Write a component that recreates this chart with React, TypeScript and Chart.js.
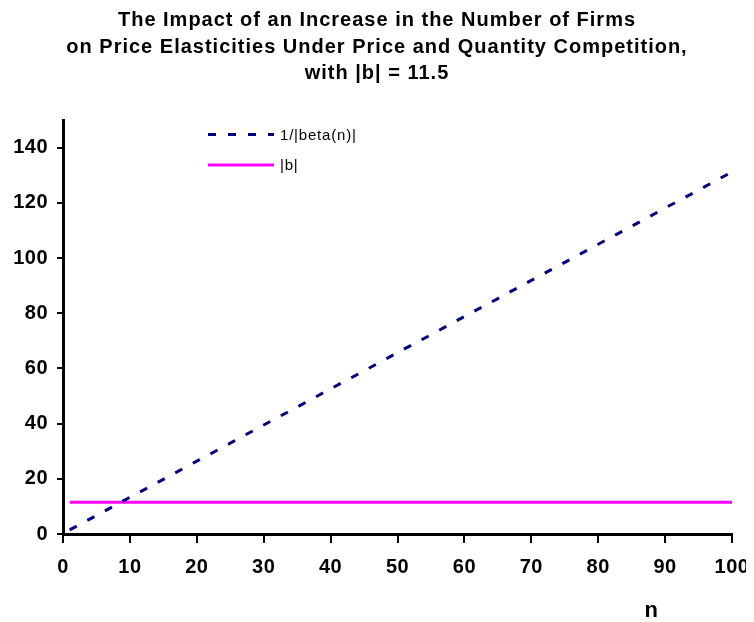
import React, { useEffect, useRef } from "react";
import { Chart, registerables } from "chart.js";

Chart.register(...registerables);

const titleLines = [
  "The Impact of an Increase in the Number of Firms",
  "on Price Elasticities Under Price and Quantity Competition,",
  "with |b| = 11.5",
];
const nValues = [1, 5, 10, 15, 20, 25, 30, 35, 40, 45, 50, 55, 60, 65, 70, 75, 80, 85, 90, 95, 100];
const betaInvValues = [1.5, 6.7, 13.3, 19.8, 26.4, 32.9, 39.5, 46.0, 52.6, 59.1, 65.7, 72.2, 78.8, 85.3, 91.9, 98.4, 105.0, 111.5, 118.1, 124.6, 131.2];
const bValues = [11.5, 11.5, 11.5, 11.5, 11.5, 11.5, 11.5, 11.5, 11.5, 11.5, 11.5, 11.5, 11.5, 11.5, 11.5, 11.5, 11.5, 11.5, 11.5, 11.5, 11.5];
const seriesNames = ["1/|beta(n)|", "|b|"];
const xAxisTitle = "n";

const NAVY = "#000080";
const MAGENTA = "#FF00FF";
const FONT = "'Liberation Sans', Arial, sans-serif";
const W = 746;
const H = 614;

const spacingPlugin = {
  id: "spacing",
  beforeLayout(chart: any) {
    (chart.ctx as any).letterSpacing = "0.5px";
  },
  beforeDraw(chart: any) {
    (chart.ctx as any).letterSpacing = "0.5px";
  },
};

const overlayPlugin = {
  id: "overlay",
  afterDraw(chart: any) {
    const ctx = chart.ctx;
    ctx.save();
    ctx.fillStyle = "#000";
    ctx.textAlign = "center";
    ctx.textBaseline = "alphabetic";
    ctx.font = `bold 20px ${FONT}`;
    (ctx as any).letterSpacing = "1px";
    const baselines = [18, 44.5, 71];
    titleLines.forEach((t, i) => ctx.fillText(t, 369, baselines[i]));

    // legend
    (ctx as any).letterSpacing = "0.8px";
    const lx0 = 200;
    const lx1 = 266;
    const rows = [126.5, 157];
    ctx.lineWidth = 3;
    ctx.strokeStyle = NAVY;
    ctx.setLineDash([8, 12]);
    ctx.beginPath();
    ctx.moveTo(lx0, rows[0]);
    ctx.lineTo(lx1, rows[0]);
    ctx.stroke();
    ctx.setLineDash([]);
    ctx.strokeStyle = MAGENTA;
    ctx.beginPath();
    ctx.moveTo(lx0, rows[1]);
    ctx.lineTo(lx1, rows[1]);
    ctx.stroke();
    ctx.font = `15px ${FONT}`;
    ctx.textAlign = "left";
    ctx.textBaseline = "middle";
    ctx.fillText(seriesNames[0], 272, rows[0] + 1);
    ctx.fillText(seriesNames[1], 272, rows[1] + 1);

    // x axis title
    ctx.font = `bold 22px ${FONT}`;
    ctx.textAlign = "center";
    ctx.textBaseline = "alphabetic";
    const xs = chart.scales.x;
    ctx.fillText(xAxisTitle, xs.getPixelForValue(88), 609);
    ctx.restore();
  },
};

export default function App() {
  const ref = useRef<HTMLCanvasElement | null>(null);
  useEffect(() => {
    document.documentElement.style.overflow = "hidden";
    if (!ref.current) return;
    const chart = new Chart(ref.current, {
      type: "scatter",
      data: {
        datasets: [
          {
            label: seriesNames[0],
            data: nValues.map((n, i) => ({ x: n, y: betaInvValues[i] })),
            showLine: true,
            borderColor: NAVY,
            borderWidth: 3,
            borderDash: [8, 12],
            pointRadius: 0,
            fill: false,
          },
          {
            label: seriesNames[1],
            data: nValues.map((n, i) => ({ x: n, y: bValues[i] })),
            showLine: true,
            borderColor: MAGENTA,
            borderWidth: 3,
            pointRadius: 0,
            fill: false,
          },
        ],
      },
      options: {
        responsive: false,
        animation: false,
        devicePixelRatio: 1,
        layout: { padding: { top: 112, right: 22, left: 0, bottom: 0 } },
        plugins: {
          legend: { display: false },
          title: { display: false },
          tooltip: { enabled: false },
        },
        scales: {
          x: {
            type: "linear",
            min: 0,
            max: 100,
            ticks: {
              stepSize: 10,
              color: "#000",
              font: { family: FONT, size: 20, weight: "bold" },
              padding: 0,
              maxRotation: 0,
            },
            grid: {
              drawOnChartArea: false,
              drawTicks: true,
              tickLength: 21,
              tickBorderDash: [7, 60],
              color: "#000",
              lineWidth: 2,
            },
            border: { display: true, color: "#000", width: 3 },
            afterFit(scale: any) {
              scale.height = 88;
            },
          },
          y: {
            type: "linear",
            min: 0,
            max: 150,
            ticks: {
              stepSize: 20,
              includeBounds: false,
              color: "#000",
              font: { family: FONT, size: 20, weight: "bold" },
              padding: 9,
            },
            grid: {
              drawOnChartArea: false,
              drawTicks: true,
              tickLength: 6,
              color: "#000",
              lineWidth: 2,
            },
            border: { display: true, color: "#000", width: 3 },
            afterFit(scale: any) {
              scale.width = 55;
            },
          },
        },
      },
      plugins: [spacingPlugin, overlayPlugin],
    } as any);
    return () => chart.destroy();
  }, []);
  return (
    <div style={{ width: W, height: H, overflow: "visible" }}>
      <canvas
        ref={ref}
        width={W}
        height={H}
        style={{ display: "block", width: W, height: H }}
      />
    </div>
  );
}
